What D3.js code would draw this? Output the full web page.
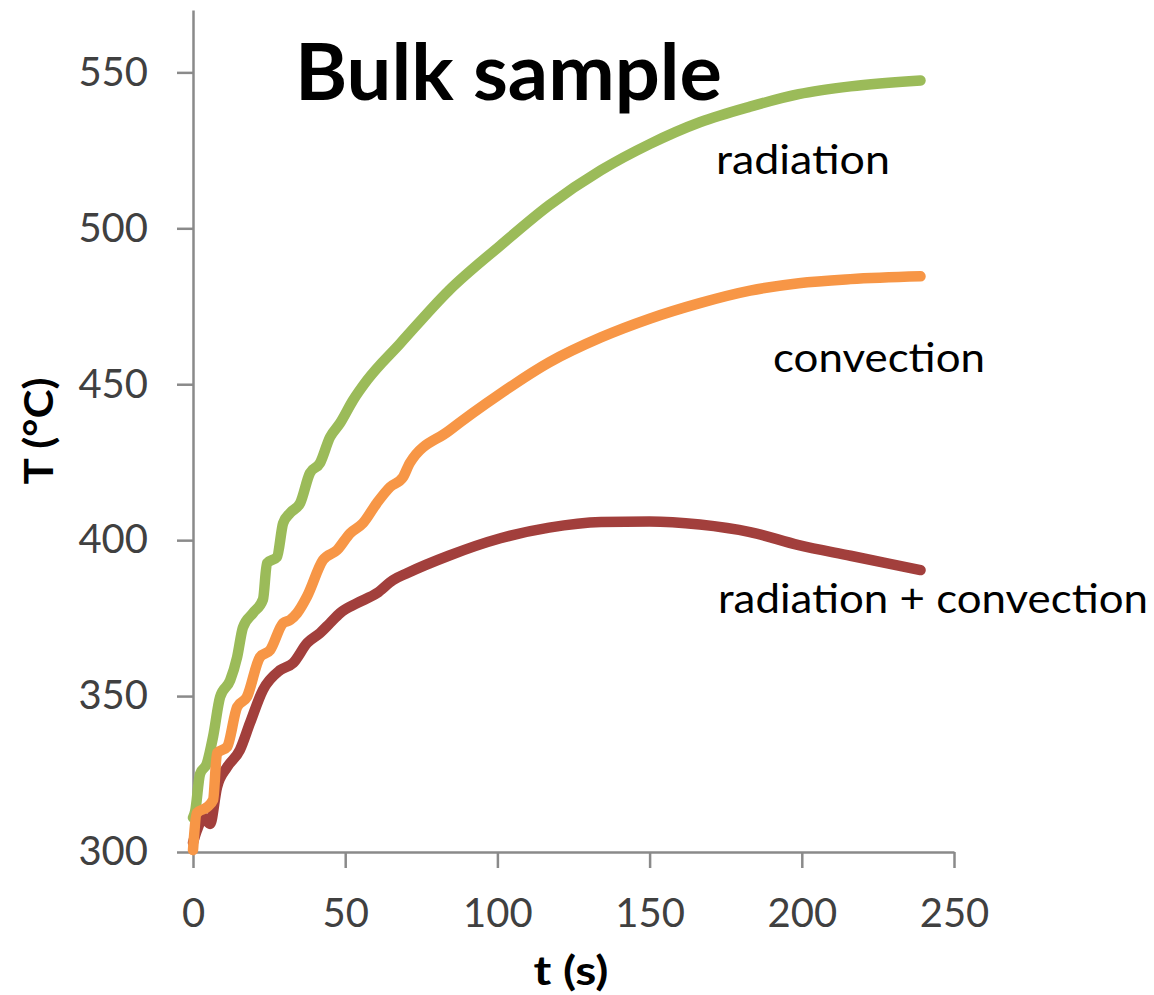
<!DOCTYPE html>
<html>
<head>
<meta charset="utf-8">
<script src="https://cdn.jsdelivr.net/npm/d3@7"></script>
<style>
  body { margin: 0; background: #fff; }
  svg { display: block; font-family: Lato, "Open Sans", sans-serif; }
</style>
</head>
<body>
<div id="chart"></div>
<script>
// Chart size
const WIDTH = 1154;
const HEIGHT = 995;

// Colours
const COLOUR_RAD = "#9bbb59";
const COLOUR_CONV = "#f79646";
const COLOUR_BOTH = "#a23f3c";
const COLOUR_AXIS = "#8a8a8a";
const COLOUR_TICK = "#404040";

// Tick labels
const xTicks = [0, 50, 100, 150, 200, 250];
const yTicks = [300, 350, 400, 450, 500, 550];

// radiation (green)
const radT = [0, 0.7, 2.3, 4.6, 6.6, 8.9, 12.2, 14.5, 16.4, 19.7, 23, 24.3, 27.6, 29.6, 31.9, 35.2, 38.4, 41.7, 45, 48.3, 52.6, 57.2, 68, 84, 101, 117, 134, 150, 166.5, 183, 199, 216, 239];
const radV = [311, 313, 325, 328.5, 337, 349.7, 355, 362.5, 372, 376.6, 381, 392.6, 394.6, 405.4, 408.7, 411.9, 421.5, 424.7, 433, 437.5, 444.9, 451.3, 463, 480, 494.5, 507.4, 518.6, 527, 534, 539, 543, 545.5, 547.4];

// convection (orange)
const convT = [0, 1.3, 4.6, 6.6, 7.9, 11.2, 14.5, 17.7, 22, 25.3, 29.6, 31.9, 34.2, 37.5, 42.7, 47.3, 51.6, 55.8, 60.4, 64.7, 69, 71.2, 84, 101, 117, 134, 150, 166.5, 183, 199, 216, 239];
const convV = [300.6, 312.5, 314.4, 316.7, 331.7, 333.7, 346.5, 349.7, 362.5, 364.7, 373.4, 374.4, 376.6, 382, 393.6, 396.8, 402.2, 405.4, 411.9, 417, 420.2, 424.7, 435, 447, 457, 465, 471, 476, 480, 482.4, 483.7, 484.6];

// radiation + convection (dark red)
const bothT = [0, 1.3, 3.5, 5.6, 7.9, 11.2, 15.4, 18.7, 23, 28.6, 32.9, 37.5, 41.7, 45, 48.3, 53.9, 60.4, 65.7, 70.3, 84, 101, 117, 134, 150, 166.5, 183, 199, 216, 239];
const bothV = [303, 307, 311, 309, 320.8, 327.2, 332.7, 341.3, 352, 358.3, 360.6, 367, 370.2, 373.4, 376.6, 379.8, 383, 387.2, 389.4, 395, 400.6, 404, 405.8, 406, 405, 402.6, 398.4, 395, 390.4];

const series = [
    {name: "radiation + convection", t: bothT, v: bothV, colour: COLOUR_BOTH},
    {name: "radiation", t: radT, v: radV, colour: COLOUR_RAD},
    {name: "convection", t: convT, v: convV, colour: COLOUR_CONV}
];

let svg = d3.select("#chart")
            .append("svg")
            .attr("width", WIDTH)
            .attr("height", HEIGHT);

// Scales
let x = d3.scaleLinear().domain([0, 250]).range([193, 954]);
let y = d3.scaleLinear().domain([300, 570]).range([852, 10]);

// Axes
let yAxis = d3.axisLeft(y)
              .tickValues(yTicks)
              .tickSize(16)
              .tickSizeOuter(0)
              .tickPadding(29);

let xAxis = d3.axisBottom(x)
              .tickValues(xTicks)
              .tickSize(16)
              .tickSizeOuter(0)
              .tickPadding(31);

let gy = svg.append("g")
            .attr("transform", `translate(${x(0)},0)`)
            .call(yAxis);

let gx = svg.append("g")
            .attr("transform", `translate(0,${y(300)})`)
            .call(xAxis);

[gx, gy].forEach(g => {
    g.select(".domain").attr("stroke", COLOUR_AXIS).attr("stroke-width", 2.5);
    g.selectAll(".tick line").attr("stroke", COLOUR_AXIS).attr("stroke-width", 2.5);
    g.selectAll(".tick text")
        .attr("fill", COLOUR_TICK)
        .style("font-size", "40px")
        .style("font-family", "Lato, sans-serif");
});

// Lines
let line = d3.line()
             .curve(d3.curveMonotoneX)
             .x(d => x(d[0]))
             .y(d => y(d[1]));

svg.selectAll("path.series")
    .data(series)
    .join("path")
    .attr("class", "series")
    .attr("fill", "none")
    .attr("stroke", d => d.colour)
    .attr("stroke-width", 10.5)
    .attr("stroke-linecap", "round")
    .attr("stroke-linejoin", "round")
    .attr("d", d => line(d.t.map((t, i) => [t, d.v[i]])));

// Title
svg.append("text")
    .attr("x", 295)
    .attr("y", 100)
    .attr("textLength", 427)
    .attr("lengthAdjust", "spacingAndGlyphs")
    .style("font-size", "79px")
    .style("font-weight", "bold")
    .attr("fill", "#000")
    .text("Bulk sample");

// Curve labels
const labels = [
    {text: "radiation", x: 716, y: 174, w: 174},
    {text: "convection", x: 773, y: 372, w: 212},
    {text: "radiation + convection", x: 718, y: 613, w: 430}
];

svg.selectAll("text.label")
    .data(labels)
    .join("text")
    .attr("class", "label")
    .attr("x", d => d.x)
    .attr("y", d => d.y)
    .attr("textLength", d => d.w)
    .attr("lengthAdjust", "spacingAndGlyphs")
    .style("font-size", "40px")
    .attr("fill", "#000")
    .text(d => d.text);

// Axis titles
svg.append("text")
    .attr("x", 571)
    .attr("y", 985)
    .attr("text-anchor", "middle")
    .attr("textLength", 75)
    .attr("lengthAdjust", "spacingAndGlyphs")
    .style("font-size", "40px")
    .style("font-weight", "bold")
    .text("t (s)");

svg.append("text")
    .attr("transform", "translate(53,431) rotate(-90)")
    .attr("text-anchor", "middle")
    .attr("textLength", 107)
    .attr("lengthAdjust", "spacingAndGlyphs")
    .style("font-size", "40px")
    .style("font-weight", "bold")
    .text("T (°C)");
</script>
</body>
</html>
